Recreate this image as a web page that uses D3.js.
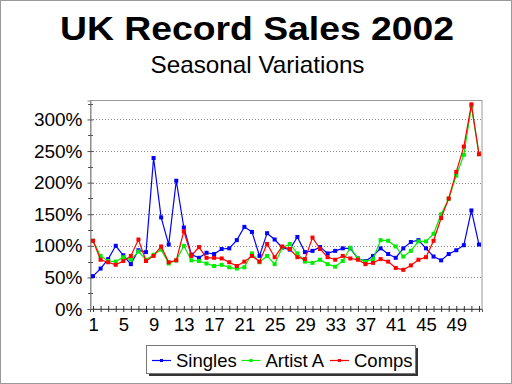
<!DOCTYPE html>
<html><head><meta charset="utf-8">
<script src="https://cdn.jsdelivr.net/npm/d3@7"></script>
<style>
html,body{margin:0;padding:0;background:#fff;}
svg{display:block;font-family:"Liberation Sans",Arial,sans-serif;}
</style></head>
<body>
<svg id="chart" width="512" height="384"></svg>
<script>
const weeks = d3.range(1, 53);
const tickLabels = [1,5,9,13,17,21,25,29,33,37,41,45,49];
const yTicks = [0,50,100,150,200,250,300];
const seriesNames = ["Singles","Artist A","Comps"];
const seriesColors = ["#0000ff","#00ee00","#ff0000"];
const singles = [52,64,79,100,85,71,93,90,239,145,102,203,129,86,81,89,87,95,96,109,130,122,84,120,110,97,94,114,90,92,98,88,92,96,96,80,76,84,96,87,81,96,106,109,96,83,77,87,93,101,156,102];
const artistA = [108,84,76,75,82,78,91,78,86,94,72,77,100,77,76,72,68,70,66,64,66,88,74,84,71,97,103,88,75,73,78,71,67,76,97,80,75,79,109,108,99,83,92,107,107,119,150,174,211,244,321,245];
const comps = [108,78,74,70,76,84,110,76,84,99,74,77,123,84,98,81,81,80,74,68,75,84,75,103,82,99,95,82,79,113,95,82,78,84,80,78,71,73,79,75,65,62,69,78,82,108,144,175,217,257,324,245];
const seriesValues = [singles, artistA, comps];

const svg = d3.select("#chart");
const W = 512, H = 384;
const L = 90, R = 482, T = 100.5, B = 309;

svg.append("rect").attr("x",0.5).attr("y",0.5).attr("width",W-1).attr("height",H-1)
  .attr("fill","#fff").attr("stroke","#999");

svg.append("text").attr("x",257).attr("y",39.5).attr("text-anchor","middle")
  .attr("font-size",34).attr("font-weight","bold")
  .attr("textLength",394).attr("lengthAdjust","spacingAndGlyphs").text("UK Record Sales 2002");
svg.append("text").attr("x",257.5).attr("y",72.5).attr("text-anchor","middle")
  .attr("font-size",24)
  .attr("textLength",214).attr("lengthAdjust","spacingAndGlyphs").text("Seasonal Variations");

const x = d3.scalePoint().domain(weeks).range([L, R]).padding(0.4);
const y = d3.scaleLinear().domain([0, 330]).range([B, T]);

// gridlines
svg.append("g").selectAll("line").data(yTicks.filter(d=>d>0)).join("line")
  .attr("x1",L).attr("x2",R).attr("y1",d=>Math.round(y(d))+0.5).attr("y2",d=>Math.round(y(d))+0.5)
  .attr("stroke","#888").attr("stroke-dasharray","1,2");

// plot frame
svg.append("rect").attr("x",L+0.5).attr("y",T).attr("width",R-L-0.5).attr("height",B-T)
  .attr("fill","none").attr("stroke","#999");

// y axis
const yAxis = svg.append("g").attr("transform",`translate(${L+0.5},0)`)
  .call(d3.axisLeft(y).tickValues(yTicks).tickFormat(d=>d+"%").tickSizeOuter(0).tickSize(3));
yAxis.select(".domain").attr("stroke","#888");
yAxis.selectAll(".tick line").attr("x1",-3).attr("x2",3).attr("stroke","#555");
yAxis.selectAll("text").attr("font-size",19).attr("x",-8).attr("fill","#000")
  .attr("font-family","Liberation Sans, Arial, sans-serif");
// minor y ticks
svg.append("g").selectAll("line").data(d3.range(25,330,50)).join("line")
  .attr("x1",L-2).attr("x2",L+3).attr("y1",d=>Math.round(y(d))+0.5).attr("y2",d=>Math.round(y(d))+0.5)
  .attr("stroke","#555");

// x axis
const xAxis = svg.append("g").attr("transform",`translate(0,${B})`)
  .call(d3.axisBottom(x).tickValues(weeks).tickFormat(d=>tickLabels.includes(d)?d:"").tickSizeOuter(0).tickSize(3));
xAxis.select(".domain").attr("stroke","#555");
xAxis.selectAll(".tick line").attr("y1",-3).attr("y2",3).attr("stroke","#333");
xAxis.selectAll("text").attr("font-size",18.5).attr("y",8.5).attr("fill","#000")
  .attr("font-family","Liberation Sans, Arial, sans-serif");

// series
const line = d3.line().x((d,i)=>x(weeks[i])).y(d=>y(d));
seriesValues.forEach((vals, si) => {
  const g = svg.append("g");
  g.append("path").datum(vals).attr("d", line).attr("fill","none")
    .attr("stroke", seriesColors[si]).attr("stroke-width",1.2);
  g.selectAll("rect").data(vals).join("rect")
    .attr("x",(d,i)=>x(weeks[i])-2).attr("y",d=>y(d)-2).attr("width",4).attr("height",4)
    .attr("fill", seriesColors[si]);
});

// legend
const lg = svg.append("g");
lg.append("rect").attr("x",149).attr("y",348).attr("width",269).attr("height",28).attr("fill","#333");
lg.append("rect").attr("x",146.5).attr("y",345.5).attr("width",269).attr("height",28)
  .attr("fill","#fff").attr("stroke","#777");
const legX = [152, 241.5, 330];
seriesNames.forEach((n, i) => {
  lg.append("line").attr("x1",legX[i]).attr("x2",legX[i]+19).attr("y1",360.5).attr("y2",360.5)
    .attr("stroke",seriesColors[i]).attr("stroke-width",1.2);
  lg.append("rect").attr("x",legX[i]+8).attr("y",359).attr("width",3).attr("height",3).attr("fill",seriesColors[i]);
  lg.append("text").attr("x",legX[i]+24).attr("y",366.5).attr("font-size",18.5).text(n);
});
</script>
</body></html>
